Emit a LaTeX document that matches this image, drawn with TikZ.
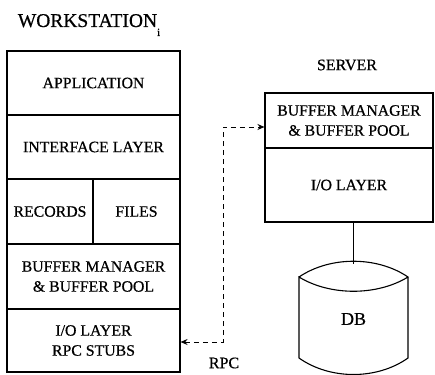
\documentclass[tikz,border=0pt]{standalone}
\usepackage{fontspec}
\setmainfont[FakeBold=0.6]{Liberation Serif}
\usetikzlibrary{arrows.meta,calc}
\begin{document}
\begin{tikzpicture}[x=1pt,y=-1pt,
  layer/.style={draw,line width=1.1pt,rectangle,inner sep=0pt,align=center,
    font=\fontsize{15.8}{20}\selectfont},
  title/.style={font=\fontsize{16}{18}\selectfont},
  rpcline/.style={dashed,dash pattern=on 5pt off 4pt,line width=1pt,
    {Stealth[length=7pt,width=6pt]}-{Stealth[length=7pt,width=6pt]}},
  link/.style={line width=1pt}]
\useasboundingbox (0,0) rectangle (435,374);
% workstation title
\node[font=\fontsize{19.5}{22}\selectfont,anchor=base] (wtitle) at (89,27)
  {WORKSTATION\raisebox{-9pt}{\fontsize{11}{11}\selectfont i}};
% workstation stack
\node[layer,minimum width=173pt,minimum height=64pt] (app) at (93.5,83) {APPLICATION};
\node[layer,minimum width=173pt,minimum height=64pt] (iface) at (93.5,147) {INTERFACE LAYER};
\node[layer,minimum width=86pt,minimum height=65pt] (rec) at (50,211.5) {RECORDS};
\node[layer,minimum width=87pt,minimum height=65pt] (files) at (136.5,211.5) {FILES};
\node[layer,minimum width=173pt,minimum height=65pt] (wbuf) at (93.5,276.5) {BUFFER MANAGER\\\& BUFFER POOL};
\node[layer,minimum width=173pt,minimum height=63pt] (wio) at (93.5,340.5) {I/O LAYER\\RPC STUBS};
% server
\node[title] (stitle) at (347,65) {SERVER};
\node[layer,minimum width=168pt,minimum height=55pt] (sbuf) at (349,120.5) {BUFFER MANAGER\\\& BUFFER POOL};
\node[layer,minimum width=168pt,minimum height=74pt] (sio) at (349,185) {I/O LAYER};
% database
\node[minimum width=109pt,minimum height=109pt,inner sep=0pt,
  font=\fontsize{18}{20}\selectfont] (db) at (353.5,319) {DB};
\draw[line width=1.1pt]
  (299,277) .. controls (330,256) and (377,256) .. (408,277)
  .. controls (377,296) and (330,296) .. (299,277) -- (299,358)
  .. controls (330,380) and (377,380) .. (408,358) -- (408,277);
\draw[link] (db.north |- sio.south) -- (db.north);
% RPC
\coordinate (c1) at (223,127);
\coordinate (c2) at (223,342);
\draw[rpcline] (c2 -| wio.east) -- (c2) -- (c1) -- (c1 -| sbuf.west);
\node[title] (rpc) at (224,363) {RPC};
\end{tikzpicture}
\end{document}
